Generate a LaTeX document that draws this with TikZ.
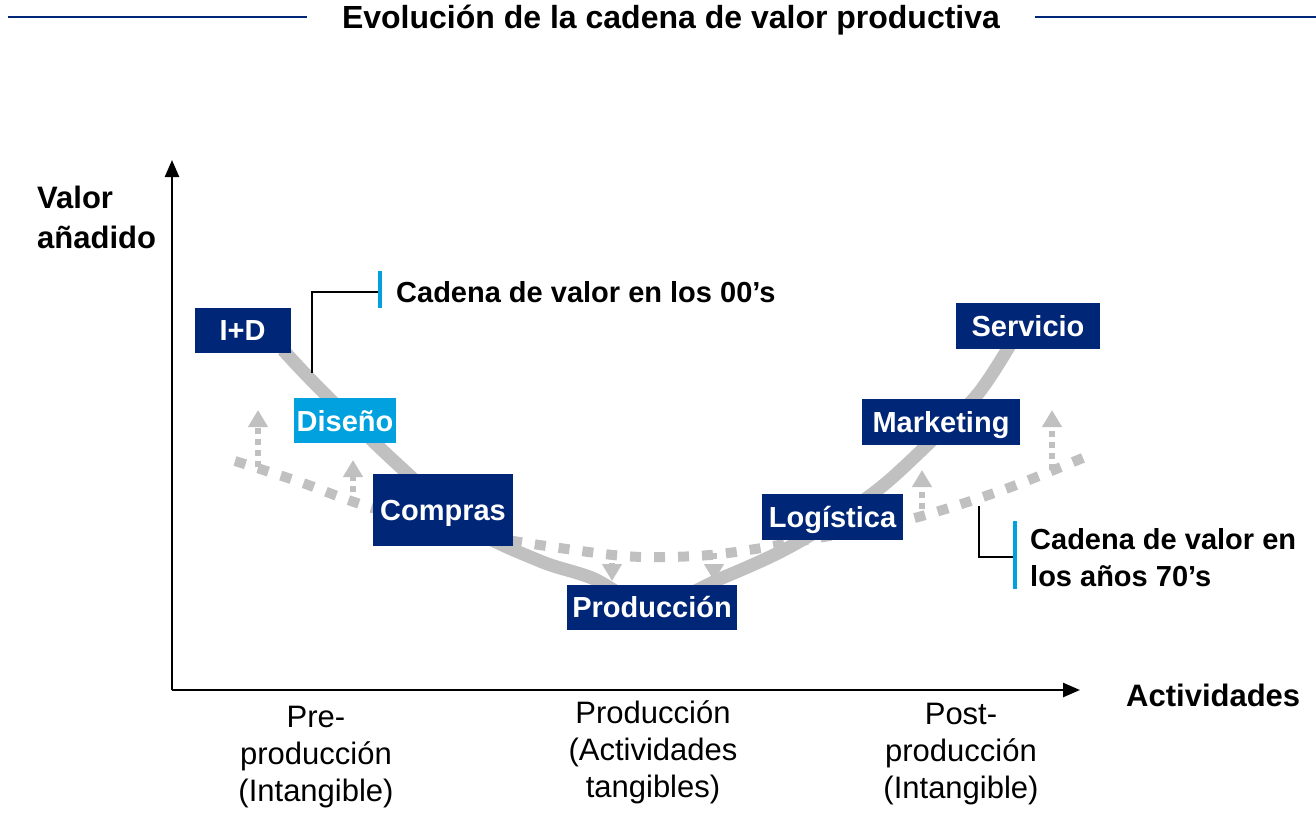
\documentclass[tikz,border=0pt]{standalone}
\usepackage{fontspec}
\setmainfont{Liberation Sans}
\usetikzlibrary{arrows.meta}
\definecolor{navy}{RGB}{0,38,119}
\definecolor{sky}{RGB}{0,161,222}
\definecolor{chain}{RGB}{192,192,192}
\begin{document}
\begin{tikzpicture}[x=1pt,y=-1pt,
  box/.style={fill=navy, text=white, font=\bfseries\fontsize{29}{34}\selectfont, inner sep=0pt, anchor=center, text height=21pt, text depth=0pt},
  bigbold/.style={font=\bfseries\fontsize{31}{40}\selectfont, inner sep=0pt},
  phase/.style={font=\fontsize{31}{37}\selectfont, inner sep=0pt, align=center},
  callout/.style={font=\bfseries\fontsize{29}{37}\selectfont, inner sep=0pt, align=left, anchor=west},
  chainsolid/.style={draw=chain, line width=13pt},
  chaindot/.style={draw=chain, line width=10pt, dash pattern=on 11pt off 13pt},
  shiftarrow/.style={draw=chain, line width=6pt, dash pattern=on 6pt off 5pt, -{Triangle[width=19pt,length=17pt]}},
  axis/.style={draw=black, line width=2.5pt, -{Triangle[width=14pt,length=17pt]}},
  leader/.style={draw=black, line width=2pt},
  bar/.style={draw=sky, line width=4pt},
  titleline/.style={draw=navy, line width=2.5pt}]
\useasboundingbox (0,0) rectangle (1316,814);

% title
\node[bigbold, font=\bfseries\fontsize{32}{40}\selectfont] (title) at (671,20) {Evolución de la cadena de valor productiva};
\coordinate (tl1) at (8,17); \coordinate (tl2) at (307,17);
\coordinate (tr1) at (1035,17); \coordinate (tr2) at (1316,17);
\draw[titleline] (tl1) -- (tl2);
\draw[titleline] (tr1) -- (tr2);

% axes
\coordinate (O) at (172,690);
\coordinate (ytop) at (172,160);
\coordinate (xend) at (1080,690);
\draw[axis] (O) -- (ytop);
\draw[axis] (O) -- (xend);
\node[bigbold, align=left, anchor=west] (ylab) at (37,217) {Valor\\añadido};
\node[bigbold, anchor=west] (xlab) at (1126,695) {Actividades};

% phase labels
\node[phase] (pre) at (316,757) {Pre-\\producción\\(Intangible)};
\node[phase] (prod) at (653,752) {Producción\\(Actividades\\tangibles)};
\node[phase] (post) at (961,754) {Post-\\producción\\(Intangible)};

% value chain of the 00's (solid)
\draw[chainsolid] plot[smooth, tension=0.55] coordinates {(283,350) (320,389) (395,462) (470,527) (540,561) (592,578) (652,606) (722,578) (780,552) (830,523) (880,488) (925,447) (977,395) (1010,345)};

% value chain of the 70's (dotted)
\draw[chaindot] plot[smooth, tension=0.55] coordinates {(235,461) (300,482) (357,503) (440,528) (520,542) (613,555) (665,557) (720,554) (790,543) (903,521) (1000,491) (1085,457)};

% shifts
\coordinate (a1s) at (258,467); \coordinate (a1e) at (258,410);
\coordinate (a2s) at (353,503); \coordinate (a2e) at (353,460);
\coordinate (a3s) at (612,552); \coordinate (a3e) at (612,581);
\coordinate (a4s) at (714,553); \coordinate (a4e) at (714,581);
\coordinate (a5s) at (922,520); \coordinate (a5e) at (922,470);
\coordinate (a6s) at (1052,470); \coordinate (a6e) at (1052,410);
\draw[shiftarrow] (a1s) -- (a1e);
\draw[shiftarrow] (a2s) -- (a2e);
\draw[shiftarrow] (a3s) -- (a3e);
\draw[shiftarrow] (a4s) -- (a4e);
\draw[shiftarrow] (a5s) -- (a5e);
\draw[shiftarrow] (a6s) -- (a6e);

% boxes
\node[box, minimum width=96pt, minimum height=45pt] (id) at (242.5,330) {I+D};
\node[box, fill=sky, minimum width=102pt, minimum height=45pt] (dis) at (345,420.5) {Diseño};
\node[box, minimum width=140pt, minimum height=72pt] (comp) at (443,510) {Compras};
\node[box, minimum width=170pt, minimum height=45pt] (prodbox) at (652,607) {Producción};
\node[box, minimum width=141pt, minimum height=46pt] (log) at (832.5,517) {Logística};
\node[box, minimum width=158pt, minimum height=46pt] (mkt) at (941,422) {Marketing};
\node[box, minimum width=144pt, minimum height=46pt] (serv) at (1028,326) {Servicio};

% callout 00's
\coordinate (c1a) at (312,373); \coordinate (c1b) at (379,292);
\coordinate (b1a) at (380,271); \coordinate (b1b) at (380,308);
\draw[leader] (c1a) |- (c1b);
\draw[bar] (b1a) -- (b1b);
\node[callout] (t00) at (396,292) {Cadena de valor en los 00’s};

% callout 70's
\coordinate (c2a) at (979,506); \coordinate (c2b) at (1013,557);
\coordinate (b2a) at (1015,521); \coordinate (b2b) at (1015,589);
\draw[leader] (c2a) |- (c2b);
\draw[bar] (b2a) -- (b2b);
\node[callout] (t70) at (1030,558) {Cadena de valor en\\los años 70’s};
\end{tikzpicture}
\end{document}
